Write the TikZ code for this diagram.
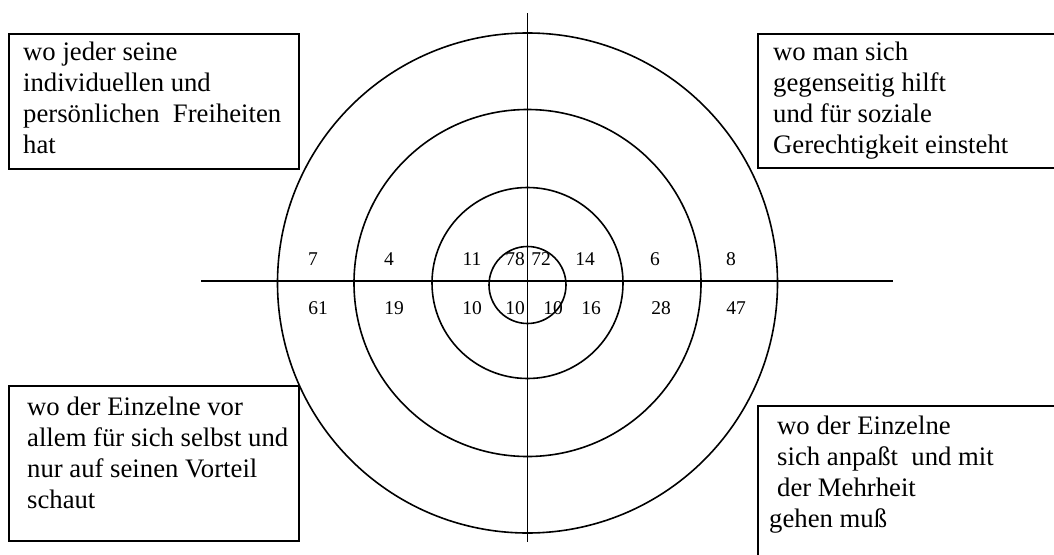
\documentclass[tikz,border=0pt]{standalone}
\usepackage{fontspec}
\setmainfont{Liberation Serif}
\begin{document}
\begin{tikzpicture}[x=1pt,y=-1pt,
  ring/.style={line width=1.6pt},
  axisline/.style={line width=1.6pt},
  box/.style={draw, line width=2pt, inner sep=0pt, anchor=north west},
  txt/.style={inner sep=0pt, anchor=base west, font=\fontsize{26.7}{31}\selectfont},
  num/.style={inner sep=0pt, font=\fontsize{19.5}{22}\selectfont}]
\useasboundingbox (0,0) rectangle (1054,554);
\clip (0,0) rectangle (1054,554);
% rings
\coordinate (O) at (527.5,283);
\coordinate (Oi) at (527.5,285);
\draw[ring] (O) circle[radius=250];
\draw[ring] (O) circle[radius=173.5];
\draw[ring] (O) circle[radius=95.5];
\draw[ring] (Oi) circle[radius=38.5];
% axes
\coordinate (hl) at (201,281);
\coordinate (hr) at (893,281);
\coordinate (vt) at (527.5,13);
\coordinate (vb) at (527.5,542);
\draw[axisline] (hl) -- (hr);
\draw[axisline] (vt) -- (vb);
% boxes
\node[box, minimum width=290pt, minimum height=135pt] (tlbox) at (8,33) {};
\node[box, minimum width=320pt, minimum height=134pt] (trbox) at (757,33) {};
\node[box, minimum width=290pt, minimum height=155pt] (blbox) at (8,385) {};
\node[box, minimum width=320pt, minimum height=200pt] (brbox) at (757,405) {};
% texts
\node[txt] (tltext) at (23,60) {\begin{tabular}[t]{@{}l@{}}wo jeder seine\\individuellen und\\persönlichen\ \ Freiheiten\\hat\end{tabular}};
\node[txt] (trtext) at (773,60) {\begin{tabular}[t]{@{}l@{}}wo man sich\\gegenseitig hilft\\und für soziale\\Gerechtigkeit einsteht\end{tabular}};
\node[txt] (bltext) at (27,415) {\begin{tabular}[t]{@{}l@{}}wo der Einzelne vor\\allem für sich selbst und\\nur auf seinen Vorteil\\schaut\end{tabular}};
\node[txt] (brtext) at (769,434) {\begin{tabular}[t]{@{}l@{}}\hspace{8pt}wo der Einzelne\\\hspace{8pt}sich anpaßt\ \ und mit\\\hspace{8pt}der Mehrheit\\gehen muß\end{tabular}};
% numbers
\node[num] (n1) at (313,259) {7};
\node[num] (n2) at (389,259) {4};
\node[num] (n3) at (472,259) {11};
\node[num] (n4) at (515,259) {78};
\node[num] (n5) at (541,259) {72};
\node[num] (n6) at (585,259) {14};
\node[num] (n7) at (655,259) {6};
\node[num] (n8) at (731,259) {8};
\node[num] (m1) at (318,308) {61};
\node[num] (m2) at (394,308) {19};
\node[num] (m3) at (472,308) {10};
\node[num] (m4) at (515,308) {10};
\node[num] (m5) at (553,308) {10};
\node[num] (m6) at (591,308) {16};
\node[num] (m7) at (661,308) {28};
\node[num] (m8) at (736,308) {47};
\end{tikzpicture}
\end{document}
